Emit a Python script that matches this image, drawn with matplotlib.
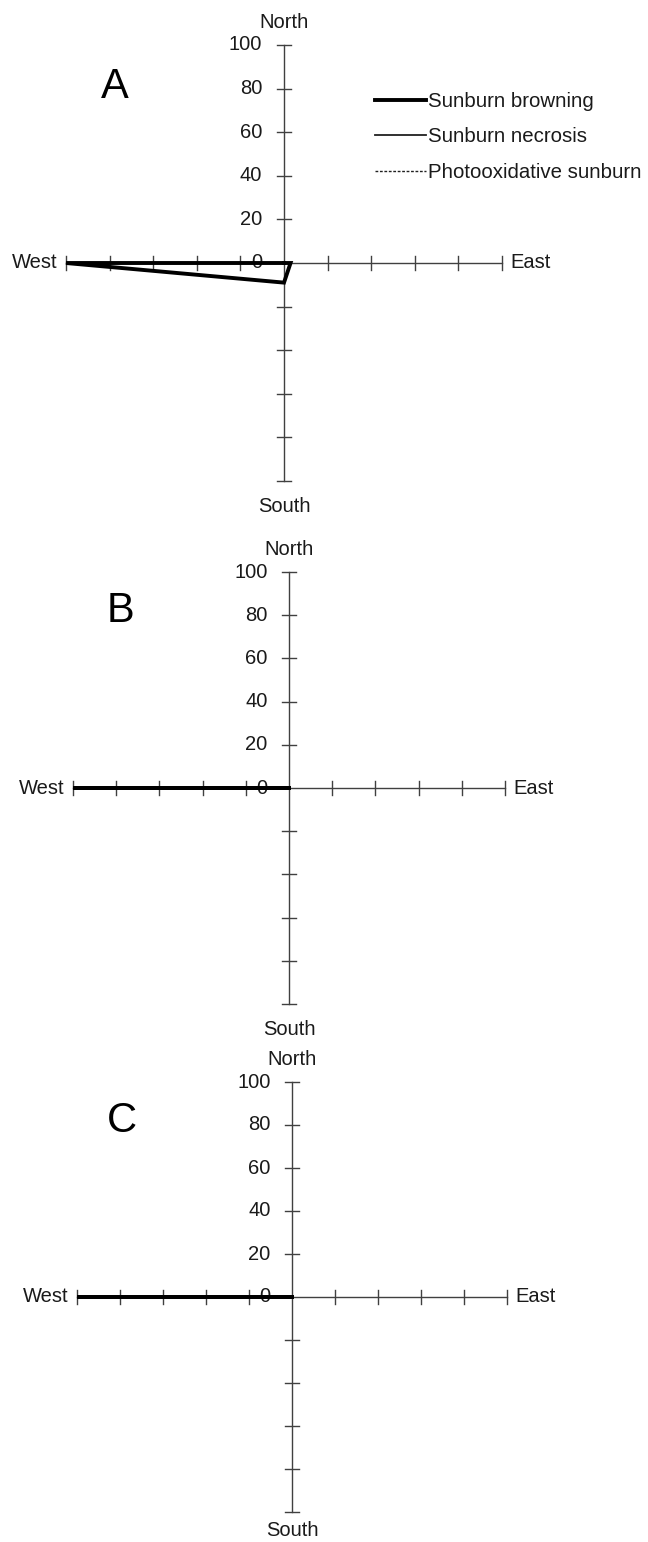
import matplotlib
matplotlib.use("Agg")
import matplotlib.pyplot as plt
from matplotlib.lines import Line2D

plt.rcParams['font.family'] = ['Liberation Sans', 'DejaVu Sans']

directions = ["North", "East", "South", "West"]
tick_values = [0, 20, 40, 60, 80, 100]
series_names = ["Sunburn browning", "Sunburn necrosis", "Photooxidative sunburn"]
panel_labels = ["A", "B", "C"]

A_browning = [0, 3, 9, 100]
A_necrosis = [0, 0, 0, 0]
A_photo = [0, 0, 0, 0]
B_browning = [0, 0, 0, 100]
B_necrosis = [0, 0, 0, 0]
B_photo = [0, 0, 0, 0]
C_browning = [0, 0, 0, 100]
C_necrosis = [0, 0, 0, 0]
C_photo = [0, 0, 0, 0]

panels = [
    (A_browning, A_necrosis, A_photo),
    (B_browning, B_necrosis, B_photo),
    (C_browning, C_necrosis, C_photo),
]

W, H = 648, 1542
fig = plt.figure(figsize=(W / 100, H / 100), dpi=100)

# centres (px) and radius (px) of each panel
centres = [(284, 263, 218), (289, 788, 216), (292, 1297, 215)]
letter_pos = [(115, 87), (121, 611), (122, 1121)]
south_off = [107.5, 107.5, 104.0]

unit = {"North": (0, 1), "East": (1, 0), "South": (0, -1), "West": (-1, 0)}
axis_col = "#404040"
txt_col = "#1a1a1a"
fs = 14.5


def to_xy(vals):
    xs, ys = [], []
    for d, v in zip(directions, vals):
        ux, uy = unit[d]
        xs.append(ux * v)
        ys.append(uy * v)
    xs.append(xs[0])
    ys.append(ys[0])
    return xs, ys


styles = [
    dict(color="black", lw=2.8, ls="-"),
    dict(color="#202020", lw=1.3, ls="-"),
    dict(color="#202020", lw=1.0, ls=(0, (2, 1.2))),
]

for i, (cx, cy, r) in enumerate(centres):
    ax = fig.add_axes([(cx - r) / W, (H - cy - r) / H, 2 * r / W, 2 * r / H])
    ax.set_xlim(-100, 100)
    ax.set_ylim(-100, 100)
    ax.axis("off")
    tl = 3.4
    # axes lines and ticks
    for d in directions:
        ux, uy = unit[d]
        ax.plot([0, ux * 100], [0, uy * 100], color=axis_col, lw=1.0, zorder=1, clip_on=False)
        for t in tick_values[1:]:
            px, py = ux * t, uy * t
            if ux == 0:
                ax.plot([px - tl, px + tl], [py, py], color=axis_col, lw=1.0, zorder=1, clip_on=False)
            else:
                ax.plot([px, px], [py - tl, py + tl], color=axis_col, lw=1.0, zorder=1, clip_on=False)
    for t in tick_values:
        ax.text(-10, t, str(t), ha="right", va="center", fontsize=fs, color=txt_col)
    ax.text(0, 106, "North", ha="center", va="bottom", fontsize=fs, color=txt_col)
    ax.text(0, -south_off[i], "South", ha="center", va="top", fontsize=fs, color=txt_col)
    ax.text(-104, 0, "West", ha="right", va="center", fontsize=fs, color=txt_col)
    ax.text(104, 0, "East", ha="left", va="center", fontsize=fs, color=txt_col)
    for vals, st in zip(reversed(panels[i]), reversed(styles)):
        xs, ys = to_xy(vals)
        ax.plot(xs, ys, zorder=3, clip_on=False, solid_joinstyle="miter", **st)
    lx, ly = letter_pos[i]
    fig.text(lx / W, 1 - ly / H, panel_labels[i], ha="center", va="center", fontsize=30, color="black")

handles = [Line2D([0], [0], **st) for st in styles]
fig.legend(handles, series_names, loc="upper left", bbox_to_anchor=(375 / W, 1 - 92 / H),
           frameon=False, fontsize=14.7, handlelength=2.5, handletextpad=0.12,
           labelspacing=0.8, borderpad=0, borderaxespad=0, labelcolor=txt_col)

fig.savefig("out.png", dpi=100, facecolor="white")
